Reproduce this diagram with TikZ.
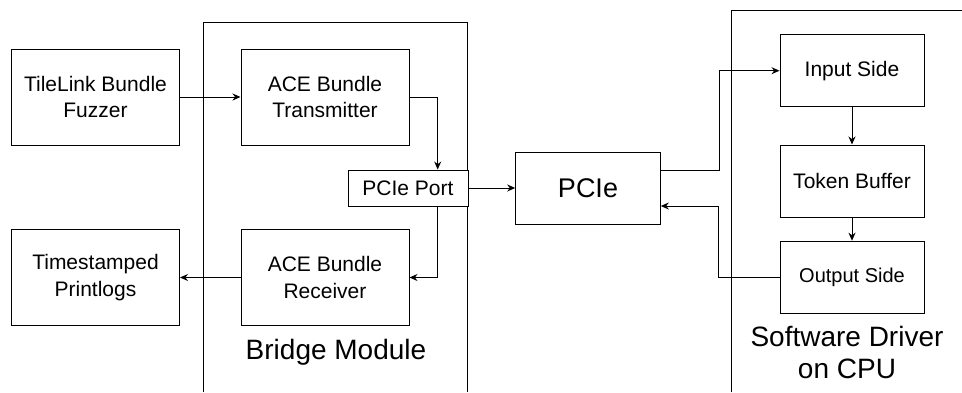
\documentclass[tikz,border=0pt]{standalone}
\usepackage{fontspec}
\setmainfont{Liberation Sans}
\usetikzlibrary{arrows.meta}
\begin{document}
\begin{tikzpicture}[x=1pt,y=-1pt,
  box/.style={draw, line width=1pt, inner sep=0pt, align=center, font=\fontsize{21}{26.7}\selectfont},
  big/.style={box, minimum width=168pt, minimum height=96pt},
  side/.style={box, minimum width=144pt, minimum height=72pt},
  arr/.style={draw, line width=1pt, -{Stealth[length=8pt,width=7pt]}},
  frame/.style={draw, line width=1pt},
  lbl/.style={align=center, inner sep=0pt, font=\fontsize{28}{31.5}\selectfont}]
\useasboundingbox (0,0) rectangle (962,392);
\fill[white] (0,0) rectangle (962,392);
% containers
\coordinate (b1) at (203,392);
\coordinate (b2) at (203,22.7);
\coordinate (b3) at (467.7,22.7);
\coordinate (b4) at (467.7,392);
\draw[frame] (b1) -- (b2) -- (b3) -- (b4);
\coordinate (s1) at (731.7,392);
\coordinate (s2) at (731.7,10.7);
\coordinate (s3) at (962,10.7);
\draw[frame] (s1) -- (s2) -- (s3);
% nodes
\node[big] (tl) at (95.5,97) {TileLink Bundle\\Fuzzer};
\node[big] (tx) at (325,97) {ACE Bundle\\Transmitter};
\node[big] (rx) at (325,277.5) {ACE Bundle\\Receiver};
\node[big] (ts) at (95.5,277.5) {Timestamped\\Printlogs};
\node[box, fill=white, minimum width=120pt, minimum height=36pt] (port) at (408,188) {PCIe Port};
\node[box, minimum width=144.6pt, minimum height=72pt, font=\fontsize{27}{30}\selectfont] (pcie) at (588,188) {PCIe};
\node[side] (in) at (852,70.7) {Input Side};
\node[side] (tb) at (852,181) {Token Buffer};
\node[side, font=\fontsize{20}{25}\selectfont] (out) at (852,277.2) {Output Side};
\node[lbl] (bm) at (336,352) {Bridge Module};
\node[lbl] (sd) at (847,352.3) {Software Driver\\on CPU};
% connectors
\draw[arr] (tl.east) -- (tx.west);
\draw[arr] (tx.east) -| ([xshift=29.7pt]port.north);
\draw[arr] ([xshift=29.7pt]port.south) |- (rx.east);
\draw[arr] (rx.west) -- (ts.east);
\draw[arr] (port.east) -- (pcie.west);
\draw[arr] ([yshift=18pt]pcie.east) -- ++(59,0) |- (in.west);
\draw[arr] (out.west) -- ++(-60.7,0) |- ([yshift=-18pt]pcie.east);
\draw[arr] (in.south) -- (tb.north);
\draw[arr] (tb.south) -- (out.north);
\end{tikzpicture}
\end{document}
